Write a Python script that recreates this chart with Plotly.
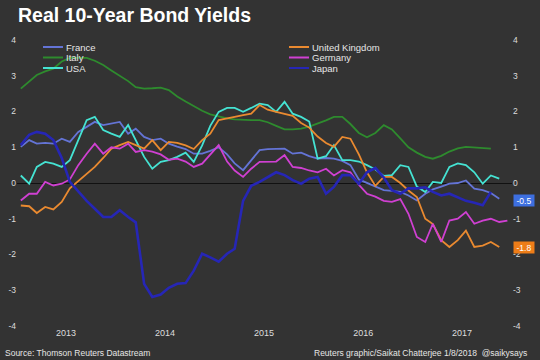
import plotly.graph_objects as go

# ---------------- data ----------------
month_dates = [f"{2013 + i // 12}-{i % 12 + 1:02d}-15" for i in range(60)]

france = [1.01, 1.2, 1.1, 1.12, 1.1, 1.24, 1.15, 1.43, 1.57, 1.71, 1.62, 1.66, 1.71, 1.38, 1.52, 1.29, 1.2, 1.24, 1.1, 1.02,
          0.95, 0.82, 0.82, 0.9, 1.0, 0.8, 0.55, 0.36, 0.65, 0.92, 0.95, 0.96, 0.96, 0.82, 0.85, 0.75, 0.68, 0.7, 0.68, 0.62, 0.5, 0.1,
          0.0, -0.1, -0.2, -0.22, -0.25, -0.35, -0.49, -0.3, -0.18, -0.1, -0.02, 0.0, 0.07, -0.16, -0.2, -0.28, -0.44]
italy = [2.64, 2.85, 3.02, 3.12, 3.2, 3.4, 3.5, 3.5, 3.5, 3.42, 3.3, 3.15, 3.0, 2.85, 2.68, 2.64, 2.65, 2.67, 2.6, 2.42,
         2.28, 2.15, 2.02, 1.92, 1.86, 1.81, 1.78, 1.76, 1.76, 1.76, 1.7, 1.6, 1.5, 1.5, 1.52, 1.58, 1.66, 1.75, 1.85, 1.85, 1.65, 1.4,
         1.28, 1.4, 1.62, 1.5, 1.25, 1.0, 0.85, 0.73, 0.68, 0.76, 0.88, 0.97, 1.01, 1.0, 0.97, 0.96]
usa = [0.21, -0.02, 0.45, 0.59, 0.54, 0.45, 0.64, 1.2, 1.76, 1.85, 1.48, 1.38, 1.29, 1.62, 1.2, 0.73, 0.4, 0.59, 0.64, 0.73,
       0.85, 0.59, 1.05, 1.6, 1.99, 2.1, 2.1, 1.99, 2.1, 2.22, 2.18, 1.99, 2.27, 1.94, 1.85, 1.72, 0.68, 0.75, 1.06, 0.64, 0.64, 0.6,
       0.5, 0.38, 0.2, 0.22, 0.5, 0.45, -0.1, -0.25, 0.03, 0.0, 0.45, 0.55, 0.5, 0.3, -0.02, 0.21, 0.12]
uk = [-0.63, -0.65, -0.84, -0.67, -0.74, -0.53, -0.15, 0.05, 0.26, 0.45, 0.7, 0.96, 1.06, 1.15, 1.06, 0.96, 1.2, 0.92, 1.15, 1.12,
      1.05, 0.95, 1.2, 1.38, 1.76, 1.8, 1.85, 1.9, 1.94, 2.18, 2.05, 1.99, 1.94, 1.88, 1.68, 1.55, 1.3, 1.12, 1.01, 1.29, 1.24, 0.8,
      0.3, -0.08, 0.17, 0.17, 0.0, -0.21, -0.39, -1.0, -1.15, -1.6, -1.79, -1.6, -1.33, -1.79, -1.75, -1.65, -1.79]
germany = [-0.49, -0.3, -0.3, 0.03, -0.07, -0.02, 0.1, 0.5, 0.82, 1.1, 0.82, 1.0, 0.96, 1.1, 0.87, 0.92, 0.88, 0.8, 0.65, 0.68,
           0.6, 0.45, 0.54, 0.8, 1.06, 0.6, 0.35, 0.17, 0.4, 0.59, 0.59, 0.6, 0.78, 0.45, 0.42, 0.35, 0.3, 0.4, 0.21, 0.36, 0.3, -0.05,
           -0.3, -0.38, -0.5, -0.53, -0.45, -0.86, -1.51, -1.65, -1.14, -1.65, -1.05, -1.0, -0.81, -1.14, -1.05, -1.0, -1.09, -1.05]
japan = [1.06, 1.35, 1.43, 1.38, 1.2, 0.7, 0.03, -0.25, -0.5, -0.72, -0.95, -0.95, -0.76, -0.95, -1.1, -2.82, -3.19, -3.12, -2.93, -2.82,
         -2.8, -2.45, -1.98, -2.08, -2.2, -1.98, -1.84, -0.5, -0.08, 0.03, 0.17, 0.3, 0.22, 0.08, -0.02, 0.12, 0.17, -0.3, -0.11, 0.22, 0.22, -0.02,
         0.3, 0.42, 0.15, -0.2, -0.3, -0.15, -0.15, -0.12, -0.25, -0.35, -0.3, -0.4, -0.5, -0.55, -0.62, -0.25]

year_tick_dates = ["2013-07-01", "2014-07-01", "2015-07-01", "2016-07-01", "2017-07-01"]
year_tick_labels = ["2013", "2014", "2015", "2016", "2017"]
y_tick_values = [-4, -3, -2, -1, 0, 1, 2, 3, 4]
end_labels = ["-0.5", "-1.8"]

# ---------------- style ----------------
W, H = 540, 360
L, R, T, B = 17, 28, 40, 34
PW, PH = W - L - R, H - T - B
BG = "#333333"
FONT = "Arial, Liberation Sans, sans-serif"


def px_x(px):
    return (px - L) / PW


def px_y(py):
    return (H - B - py) / PH


series = [
    ("France", france, "#6474d6", 1.8, 0, 0),
    ("Italy", italy, "#2e8b2e", 1.8, 0, 1),
    ("USA", usa, "#45e3d3", 1.8, 0, 2),
    ("United Kingdom", uk, "#ea8a30", 1.8, 1, 0),
    ("Germany", germany, "#d040d2", 1.8, 1, 1),
    ("Japan", japan, "#2626b6", 2.6, 1, 2),
]
legend_cols = [43, 289]
legend_rows = [47, 57.5, 68]
end_label_colors = ["#3d6fe0", "#ee7d18"]

fig = go.Figure()
shapes, annotations = [], []
for name, vals, color, lw, col, row in series:
    fig.add_trace(go.Scatter(
        x=month_dates[:len(vals)], y=vals, mode="lines", name=name,
        line=dict(color=color, width=lw),
        yaxis="y2" if name == "Japan" else "y",
        showlegend=False,
    ))
    x0 = legend_cols[col]
    yy = px_y(legend_rows[row])
    shapes.append(dict(type="line", xref="paper", yref="paper",
                       x0=px_x(x0), x1=px_x(x0 + 20), y0=yy, y1=yy,
                       line=dict(color=color, width=2)))
    annotations.append(dict(xref="paper", yref="paper", x=px_x(x0 + 21), y=yy,
                            xanchor="left", yanchor="middle", showarrow=False,
                            text=name, font=dict(family=FONT, size=9.5, color="#e6e6e6")))

for lab, c in zip(end_labels, end_label_colors):
    annotations.append(dict(xref="paper", yref="y", x=px_x(524), y=float(lab),
                            xanchor="center", yanchor="middle", showarrow=False,
                            text=lab, bgcolor=c, width=20, height=11, borderpad=0,
                            font=dict(family=FONT, size=8.5, color="#ffffff")))

annotations.append(dict(xref="paper", yref="paper", x=px_x(3), y=px_y(353),
                        xanchor="left", yanchor="middle", showarrow=False,
                        text="Source: Thomson Reuters Datastream",
                        font=dict(family=FONT, size=8.5, color="#e6e6e6")))
annotations.append(dict(xref="paper", yref="paper", x=px_x(529), y=px_y(353),
                        xanchor="right", yanchor="middle", showarrow=False,
                        text="Reuters graphic/Saikat Chatterjee 1/8/2018  @saikysays",
                        font=dict(family=FONT, size=8.5, color="#e6e6e6")))

yax = dict(range=[-4, 4], tickvals=y_tick_values, ticktext=[str(v) for v in y_tick_values],
           showgrid=False, showline=False, ticks="", automargin=False,
           tickfont=dict(family=FONT, size=8.5, color="#dddddd"), fixedrange=True)

fig.update_layout(
    width=W, height=H, autosize=False,
    margin=dict(l=L, r=R, t=T, b=B, pad=0, autoexpand=False),
    paper_bgcolor=BG, plot_bgcolor=BG,
    title=dict(text="Real 10-Year Bond Yields", xref="paper", x=px_x(18), xanchor="left",
               yref="container", y=1 - 15 / H, yanchor="middle", automargin=False,
               font=dict(family=FONT, size=19.5, color="#ffffff", weight=700)),
    xaxis=dict(type="date", range=["2013-01-01", "2018-01-01"], tickvals=year_tick_dates,
               ticktext=year_tick_labels, showgrid=False, showline=False, zeroline=False, ticks="",
               automargin=False, tickfont=dict(family=FONT, size=9, color="#dddddd")),
    yaxis=dict(**yax, side="left", zeroline=True, zerolinecolor="#111111", zerolinewidth=1),
    yaxis2=dict(**yax, side="right", overlaying="y", zeroline=False),
    shapes=shapes, annotations=annotations,
)

fig.write_html("out.html", config={"displayModeBar": False},
               post_script="document.body.style.margin='0px';document.body.style.background='#333333';")
